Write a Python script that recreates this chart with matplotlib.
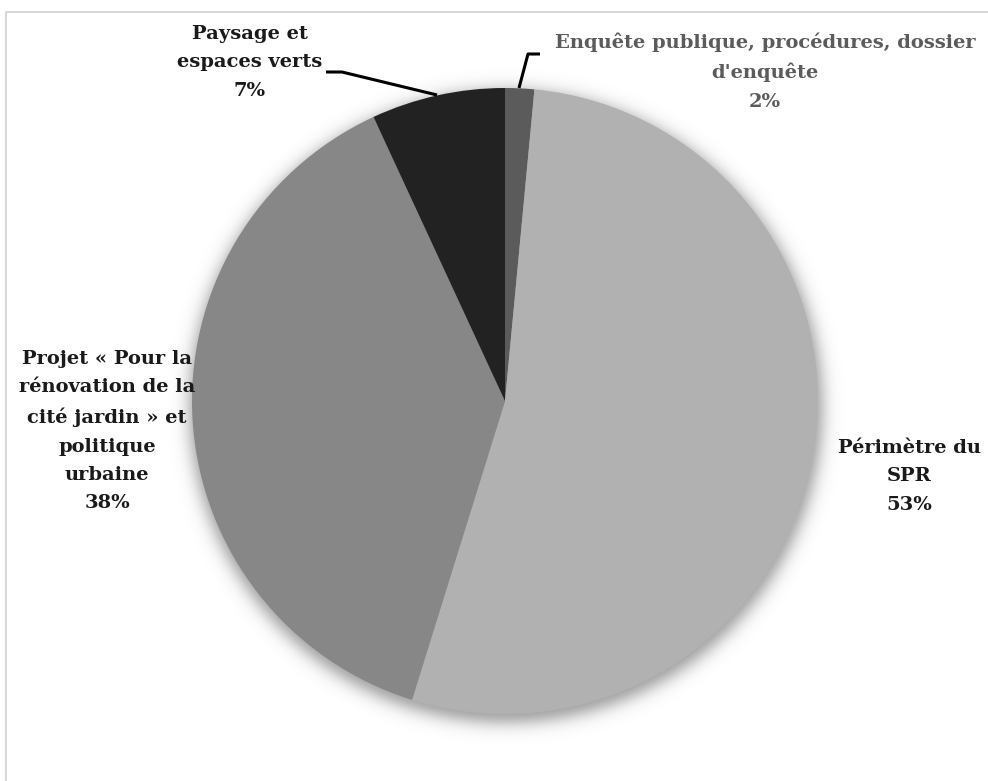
import matplotlib
matplotlib.use("Agg")
import matplotlib.pyplot as plt
import numpy as np

# parts of the responses, in percent, clockwise from 12 o'clock
categories = [
    "Enquête publique, procédures, dossier\nd'enquête",
    "Périmètre du\nSPR",
    "Projet « Pour la\nrénovation de la\ncité jardin » et\npolitique\nurbaine",
    "Paysage et\nespaces verts",
]
shares = [1.5, 53.3, 38.3, 6.9]
colors = ["#5b5b5b", "#b1b1b1", "#878787", "#222222"]
text_colors = ["#5b5b5b", "#1a1a1a", "#1a1a1a", "#1a1a1a"]

W, H = 988, 781
fig = plt.figure(figsize=(W / 100, H / 100), dpi=100)
ax = fig.add_axes([0, 0, 1, 1])

cx, cy, r = 505, H - 401, 313

# soft drop shadow under the pie
yy, xx = np.mgrid[0:H, 0:W]
d = np.hypot(xx - cx, (H - yy) - (cy - 5))
alpha = 0.4 / (1 + np.exp((d - r - 3) / 5.0))
shadow = np.zeros((H, W, 4))
shadow[..., 3] = alpha
ax.imshow(shadow, extent=(0, W, 0, H), origin="upper", zorder=0, interpolation="bilinear")

ax.pie(shares, colors=colors, startangle=90, counterclock=False,
       center=(cx, cy), radius=r, frame=True,
       wedgeprops=dict(linewidth=0))
ax.set_xlim(0, W)
ax.set_ylim(0, H)
ax.set_aspect("equal")
ax.axis("off")

font = dict(family="DejaVu Serif", weight="bold", fontsize=14,
            ha="center", va="top", linespacing=1.74)
label_pos = [(765, 32), (909, 439), (107, 350), (250, 25)]
for name, s, (x, y), c in zip(categories, shares, label_pos, text_colors):
    ax.text(x, H - y, "%s\n%.0f%%" % (name, s), color=c, **font)

# leader lines for the two small slices
ax.plot([326, 342, 437], [H - 72, H - 72, H - 95], color="black", lw=2.2,
        solid_capstyle="butt", zorder=5)
ax.plot([540, 528, 519], [H - 54, H - 54, H - 88], color="black", lw=2.2,
        solid_capstyle="butt", zorder=5)

# chart area border
ax.plot([6, 6, W], [0, H - 12, H - 12], color="#d9d9d9", lw=1.5, zorder=1)

fig.savefig("out.png", dpi=100)
